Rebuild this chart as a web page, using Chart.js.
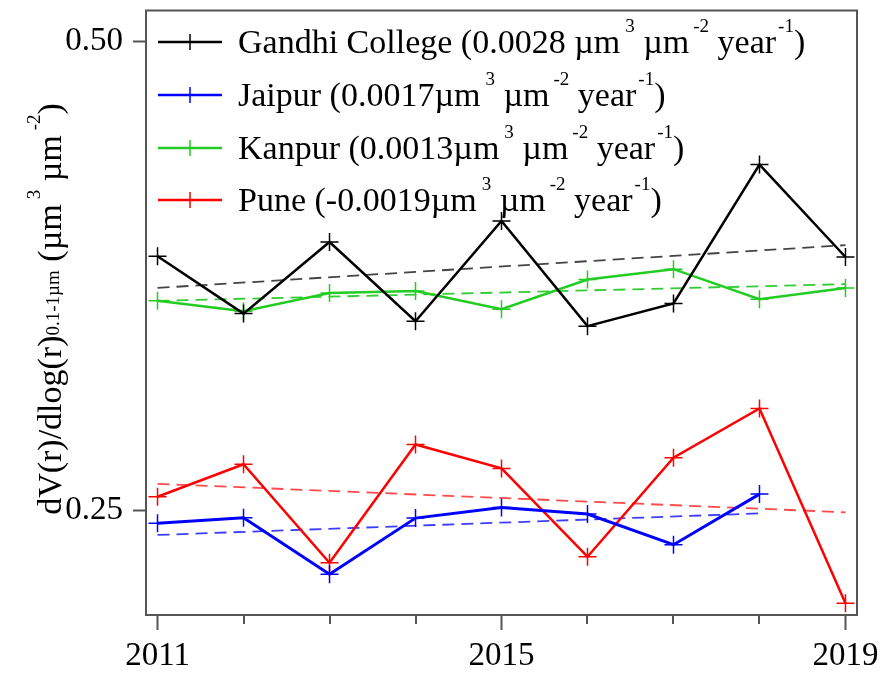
<!DOCTYPE html>
<html>
<head>
<meta charset="utf-8">
<script src="https://cdn.jsdelivr.net/npm/chart.js@4/dist/chart.umd.min.js"></script>
<style>
html,body{margin:0;padding:0;background:#fff;}
canvas{display:block;}
</style>
</head>
<body>
<canvas id="c" width="884" height="675"></canvas>
<script>
// ---- data ----
const years = [2011, 2012, 2013, 2014, 2015, 2016, 2017, 2018, 2019];
const gandhiCollege = [0.3854, 0.3548, 0.3930, 0.3507, 0.4042, 0.3481, 0.3602, 0.4343, 0.3850];
const jaipur        = [0.2429, 0.2459, 0.2157, 0.2457, 0.2514, 0.2479, 0.2315, 0.2585];
const kanpur        = [0.3616, 0.3561, 0.3658, 0.3669, 0.3571, 0.3730, 0.3785, 0.3625, 0.3685];
const pune          = [0.2571, 0.2744, 0.2219, 0.2850, 0.2722, 0.2251, 0.2779, 0.3042, 0.2003];
// trend lines (end points)
const gandhiTrend = [0.3685, 0.3913]; const gandhiTrendYears = [2011, 2019];
const jaipurTrend = [0.2367, 0.2482]; const jaipurTrendYears = [2011, 2018];
const kanpurTrend = [0.3616, 0.3705]; const kanpurTrendYears = [2011, 2019];
const puneTrend   = [0.2640, 0.2488]; const puneTrendYears   = [2011, 2019];
const seriesNames = ["Gandhi College", "Jaipur", "Kanpur", "Pune"];
const seriesRates = ["0.0028 ", "0.0017", "0.0013", "-0.0019"];
const yTickValues = [0.25, 0.50];
const yTickLabels = ["0.25", "0.50"];
const xLabelYears = [2011, 2015, 2019];

const colors = ["#000000", "#0000ff", "#22cc22", "#ff0000"];
const trendColors = ["#444444", "#3d3dff", "#33cc33", "#ff4a4a"];

function pts(xs, ys){ return ys.map((v,i)=>({x:xs[i], y:v})); }

const seriesData = [gandhiCollege, jaipur, kanpur, pune];
const trends = [[gandhiTrendYears, gandhiTrend],[jaipurTrendYears, jaipurTrend],[kanpurTrendYears, kanpurTrend],[puneTrendYears, puneTrend]];

const datasets = [];
seriesData.forEach((d,i)=>{
  datasets.push({
    label: seriesNames[i],
    data: pts(years, d),
    borderColor: colors[i],
    backgroundColor: colors[i],
    borderWidth: i===1 ? 3 : 2.5,
    pointStyle: 'cross',
    pointRadius: 9,
    pointBorderWidth: 1.5,
    pointBorderColor: colors[i],
    tension: 0,
    order: 0
  });
});
trends.forEach((t,i)=>{
  datasets.push({
    label: seriesNames[i] + " trend",
    data: pts(t[0], t[1]),
    borderColor: trendColors[i],
    borderWidth: 1.8,
    borderDash: [12, 7],
    pointRadius: 0,
    tension: 0,
    order: 1
  });
});

const FAM = '"Liberation Serif", "Times New Roman", serif';
const MAIN = '34px ' + FAM;
const SMALL = '19px ' + FAM;

function measureRich(ctx, segs){
  let w = 0;
  segs.forEach(s=>{ ctx.font = s.k==='n' ? MAIN : SMALL; w += (s.pre||0) + ctx.measureText(s.t).width; });
  return w;
}
function drawRich(ctx, x, y, segs){
  segs.forEach(s=>{
    ctx.font = s.k==='n' ? MAIN : SMALL;
    x += (s.pre||0);
    let dy = 0;
    if (s.k==='sup') dy = -21;
    if (s.k==='sub') dy = -2;
    ctx.fillText(s.t, x, y+dy);
    x += ctx.measureText(s.t).width;
  });
  return x;
}

const decorPlugin = {
  id: 'decor',
  afterDraw(chart){
    const ctx = chart.ctx;
    const a = chart.chartArea;
    const xs = chart.scales.x;
    ctx.save();
    // minor ticks
    ctx.strokeStyle = '#555';
    ctx.lineWidth = 2;
    years.forEach(v=>{
      if (xLabelYears.includes(v)) return;
      const px = Math.round(xs.getPixelForValue(v));
      ctx.beginPath(); ctx.moveTo(px, a.bottom); ctx.lineTo(px, a.bottom+9); ctx.stroke();
    });
    // frame
    ctx.strokeStyle = '#555';
    ctx.lineWidth = 2;
    ctx.strokeRect(a.left, a.top, a.right-a.left, a.bottom-a.top);

    // legend
    ctx.textBaseline = 'alphabetic';
    ctx.textAlign = 'left';
    const rowY = [42, 95, 148, 200];
    seriesNames.forEach((n,i)=>{
      const cy = rowY[i];
      ctx.strokeStyle = colors[i];
      ctx.lineWidth = 2.5;
      ctx.beginPath(); ctx.moveTo(158, cy); ctx.lineTo(222, cy); ctx.stroke();
      ctx.lineWidth = 1.5;
      ctx.beginPath(); ctx.moveTo(190, cy-8); ctx.lineTo(190, cy+8); ctx.stroke();
      ctx.fillStyle = '#000';
      const segs = [
        {k:'n', t: n + ' (' + seriesRates[i] + 'µm'},
        {k:'sup', t:'3', pre:5},
        {k:'n', t:' µm'},
        {k:'sup', t:'-2', pre:4},
        {k:'n', t:' year'},
        {k:'sup', t:'-1', pre:2},
        {k:'n', t:')'}
      ];
      drawRich(ctx, 238, cy+11, segs);
    });

    // y axis title (rotated)
    const tsegs = [
      {k:'n', t:'dV(r)/dlog(r)'},
      {k:'sub', t:'0.1-1µm'},
      {k:'n', t:' (µm'},
      {k:'sup', t:'3', pre:5},
      {k:'n', t:' µm'},
      {k:'sup', t:'-2', pre:5},
      {k:'n', t:')'}
    ];
    const w = measureRich(ctx, tsegs);
    ctx.translate(61, 309 + w/2);
    ctx.rotate(-Math.PI/2);
    ctx.fillStyle = '#000';
    drawRich(ctx, 0, 0, tsegs);
    ctx.restore();
  }
};

new Chart(document.getElementById('c'), {
  type: 'line',
  data: { datasets },
  options: {
    responsive: false,
    animation: false,
    devicePixelRatio: 1,
    layout: { padding: { top: 10, right: 27, left: 0, bottom: 0 } },
    plugins: { legend: { display: false }, tooltip: { enabled: false } },
    scales: {
      x: {
        type: 'linear',
        min: 2010.866,
        max: 2019.134,
        border: { display: false },
        grid: {
          drawOnChartArea: false,
          drawTicks: true,
          tickLength: 15,
          tickWidth: 2,
          tickColor: (c)=> (c.tick && xLabelYears.includes(c.tick.value)) ? '#555' : 'rgba(0,0,0,0)'
        },
        afterBuildTicks: (s)=>{ s.ticks = years.map(v=>({value:v})); },
        afterFit: (s)=>{ s.height = 60; s.paddingLeft = 0; s.paddingRight = 0; },
        ticks: {
          autoSkip: false,
          maxRotation: 0,
          padding: 7,
          color: '#000',
          font: { family: FAM, size: 33 },
          callback: (v)=> xLabelYears.includes(v) ? String(v) : ''
        }
      },
      y: {
        type: 'linear',
        min: 0.1940,
        max: 0.5165,
        border: { display: false },
        grid: {
          drawOnChartArea: false,
          drawTicks: true,
          tickLength: 13,
          tickWidth: 2,
          tickColor: '#555'
        },
        afterBuildTicks: (s)=>{ s.ticks = yTickValues.map(v=>({value:v})); },
        afterFit: (s)=>{ s.width = 146; s.paddingTop = 0; s.paddingBottom = 0; },
        ticks: {
          autoSkip: false,
          padding: 10,
          color: '#000',
          font: { family: FAM, size: 33 },
          callback: (v)=>{ const k = yTickValues.indexOf(v); return k>=0 ? yTickLabels[k] : ''; }
        }
      }
    }
  },
  plugins: [decorPlugin]
});
</script>
</body>
</html>
